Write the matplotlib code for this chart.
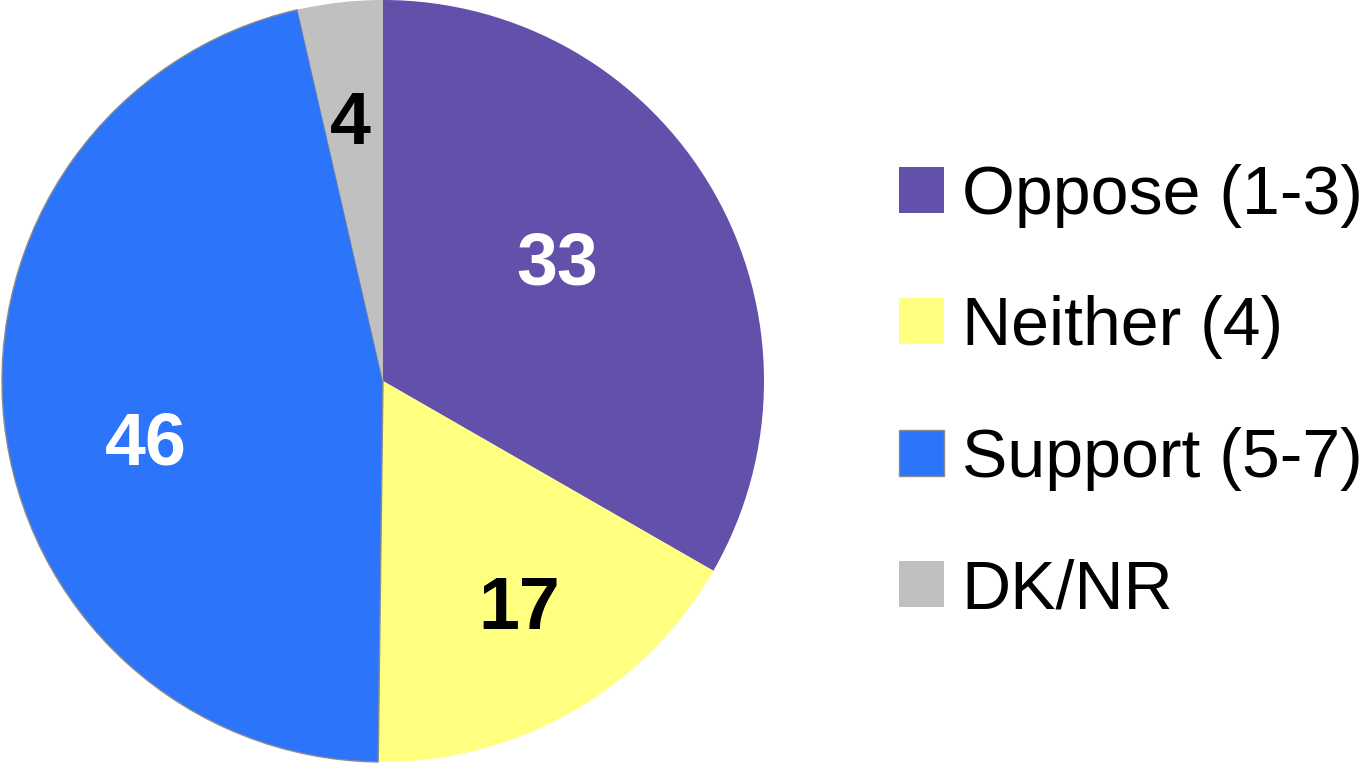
import numpy as np
import matplotlib
matplotlib.use("Agg")
import matplotlib.pyplot as plt

plt.rcParams['font.family'] = ['Liberation Sans', 'DejaVu Sans']

labels = ['Oppose (1-3)', 'Neither (4)', 'Support (5-7)', 'DK/NR']
values = [33.3, 16.9, 46.2, 3.6]
shown = ['33', '17', '46', '4']
colors = ['#6350AA', '#FFFF80', '#2C74FA', '#C0C0C0']
label_colors = ['white', 'black', 'white', 'black']
label_dist = [0.549, 0.699, 0.644, 0.678]
label_turn = [3.6, 1.0, 9.0, 0.8]  # degrees, nudges labels off the slice middle

fig = plt.figure(figsize=(13.67, 7.63), dpi=100)
ax = fig.add_axes([2 / 1367, 1 / 763, 762 / 1367, 762 / 763])

wedges, _ = ax.pie(values, colors=colors, startangle=90, counterclock=False,
                   wedgeprops=dict(linewidth=0))
# only the support slice has a thin grey outline
wedges[2].set_edgecolor('#8C8C8C')
wedges[2].set_linewidth(1.0)

for w, s, c, d, t in zip(wedges, shown, label_colors, label_dist, label_turn):
    ang = np.deg2rad((w.theta1 + w.theta2) / 2 + t)
    ax.text(d * np.cos(ang), d * np.sin(ang), s, color=c,
            fontsize=53, fontweight='bold', ha='center', va='center')

ax.set_xlim(-1, 1)
ax.set_ylim(-1, 1)
ax.set_aspect('equal')
ax.axis('off')

leg = fig.legend(wedges, labels, loc='center left',
                 bbox_to_anchor=(899 / 1367, 0.485), frameon=False,
                 fontsize=49, handlelength=0.66, handleheight=0.66,
                 handletextpad=0.26, labelspacing=0.99, borderpad=0,
                 borderaxespad=0)

fig.savefig('out.png', dpi=100, facecolor='white')
